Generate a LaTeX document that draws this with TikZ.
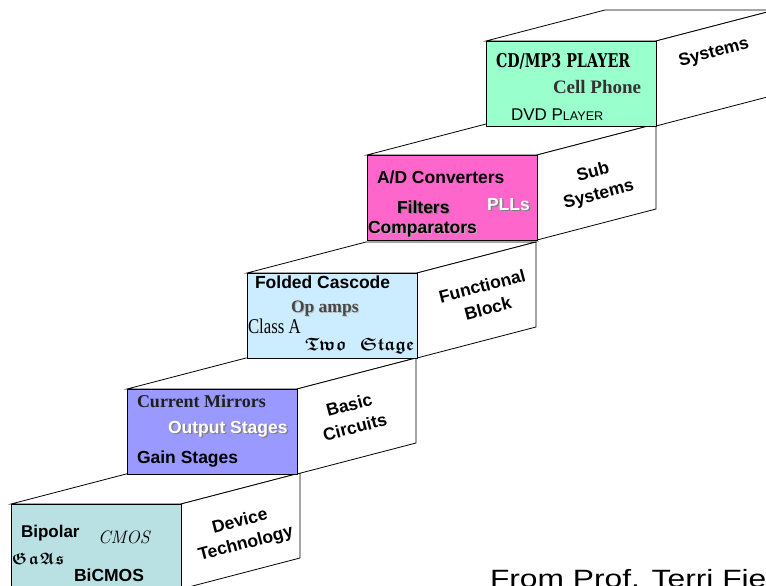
\documentclass[tikz,border=0pt]{standalone}
\usepackage{fontspec}
\setmainfont{Liberation Serif}
\newfontfamily\arial{Liberation Sans}
\newfontfamily\slab[FakeStretch=0.75]{DejaVu Serif}
\newfontfamily\lmr{Latin Modern Roman}
\newcommand\frakb[1]{\fontsize{#1}{#1}\usefont{U}{euf}{b}{n}}
\definecolor{mint}{HTML}{99FFCC}
\definecolor{rose}{HTML}{FF66CC}
\definecolor{sky}{HTML}{CCECFF}
\definecolor{peri}{HTML}{9999FF}
\definecolor{teal}{HTML}{B9E0E3}
\definecolor{shade}{HTML}{808080}
\definecolor{dark}{HTML}{333333}
\begin{document}
\begin{tikzpicture}[x=1pt,y=-1pt,
  face/.style={draw=black,line width=0.8pt,line join=miter},
  lbl/.style={anchor=base west,inner sep=0pt,outer sep=0pt},
  sansb/.style={lbl,font=\arial\bfseries\fontsize{17.5}{21}\selectfont},
  serifb/.style={lbl,font=\bfseries\fontsize{18}{21}\selectfont},
  shadowtxt/.style={text=shade},
  sidelbl/.style={inner sep=0pt,align=center,rotate=14.6,
    font=\arial\bfseries\fontsize{17.5}{23}\selectfont}]
\useasboundingbox (0,0) rectangle (766,586);
\clip (0,0) rectangle (766,586);
\fill[white] (0,0) rectangle (766,586);
% boxes (front top-left X,Y)
\foreach \X/\Y/\C in {11/504/teal,127/389/peri,247/273/sky,367/155/rose,486/41/mint}{
  \filldraw[face,fill=white] (\X,\Y) -- ++(119,-31) -- ++(170,0) -- ++(-119,31) -- cycle;
  \filldraw[face,fill=white] (\X+170,\Y) -- ++(119,-31) -- ++(0,85) -- ++(-119,31) -- cycle;
  \filldraw[face,fill=\C] (\X,\Y) rectangle ++(170,85);
}
% Systems
\node[lbl,font=\slab\bfseries\fontsize{19}{22}\selectfont] (cd) at (496,67) {CD/MP3 PLAYER};
\node[lbl,text=dark,font=\bfseries\fontsize{19}{22}\selectfont] (cell) at (553,93) {Cell Phone};
\node[lbl,font=\arial\fontsize{17}{20}\selectfont] (dvd) at (511,121) {DVD P{\fontsize{12.6}{15}\selectfont LAYER}};
\node[sidelbl] (sys) at (714,53) {Systems};
% Sub systems
\node[sansb] (ad) at (377,183) {A/D Converters};
\node[sansb,shadowtxt] (filt-s) at (398.2,214.2) {Filters};
\node[sansb] (filt) at (397,213) {Filters};
\node[sansb,shadowtxt] (pll-s) at (488.5,211.5) {PLLs};
\node[sansb,text=white] (pll) at (487,210) {PLLs};
\node[sansb,text=gray!60] (comp-s) at (369,234) {Comparators};
\node[sansb] (comp) at (368,233) {Comparators};
\node[sidelbl] (sub) at (596,184) {Sub\\Systems};
% Functional block
\node[sansb] (fc) at (255,288) {Folded Cascode};
\node[serifb,text=gray!55,font=\bfseries\fontsize{17.5}{21}\selectfont] (op-s) at (292,313) {Op amps};
\node[serifb,text=dark!90,font=\bfseries\fontsize{17.5}{21}\selectfont] (op) at (291,312) {Op amps};
\node[lbl,font=\fontsize{21}{24}\selectfont] (cla) at (248,333) {\scalebox{0.8}[1]{Class A}};
\node[lbl,font=\frakb{18}] (two) at (305,350) {Two\hspace{13pt}Stage};
\node[sidelbl] (fb) at (485,297) {Functional\\Block};
% Basic circuits
\node[serifb,text=black!88] (cm) at (137,407) {Current Mirrors};
\node[sansb,shadowtxt] (out-s) at (169.5,434.5) {Output Stages};
\node[sansb,text=white] (out) at (168,433) {Output Stages};
\node[sansb] (gain) at (137,463) {Gain Stages};
\node[sidelbl] (bc) at (352,416) {Basic\\Circuits};
% Device technology
\node[sansb,font=\arial\bfseries\fontsize{17}{21}\selectfont] (bip) at (21,537) {Bipolar};
\node[lbl,font=\lmr\itshape\fontsize{18}{21}\selectfont] (cmos) at (98,543) {CMOS};
\node[lbl,font=\frakb{16.5}] (gaas) at (12,564) {G\hspace{1.5pt}a\hspace{1.5pt}A\hspace{1.5pt}s};
\node[sansb] (bicmos) at (74,581) {BiCMOS};
\node[sidelbl] (dt) at (243,533) {Device\\Technology};
% credit
\node[lbl,font=\arial\fontsize{25}{28}\selectfont] (credit) at (490,587) {\scalebox{1.27}[1]{From Prof. Terri Fiez}};
\end{tikzpicture}
\end{document}
